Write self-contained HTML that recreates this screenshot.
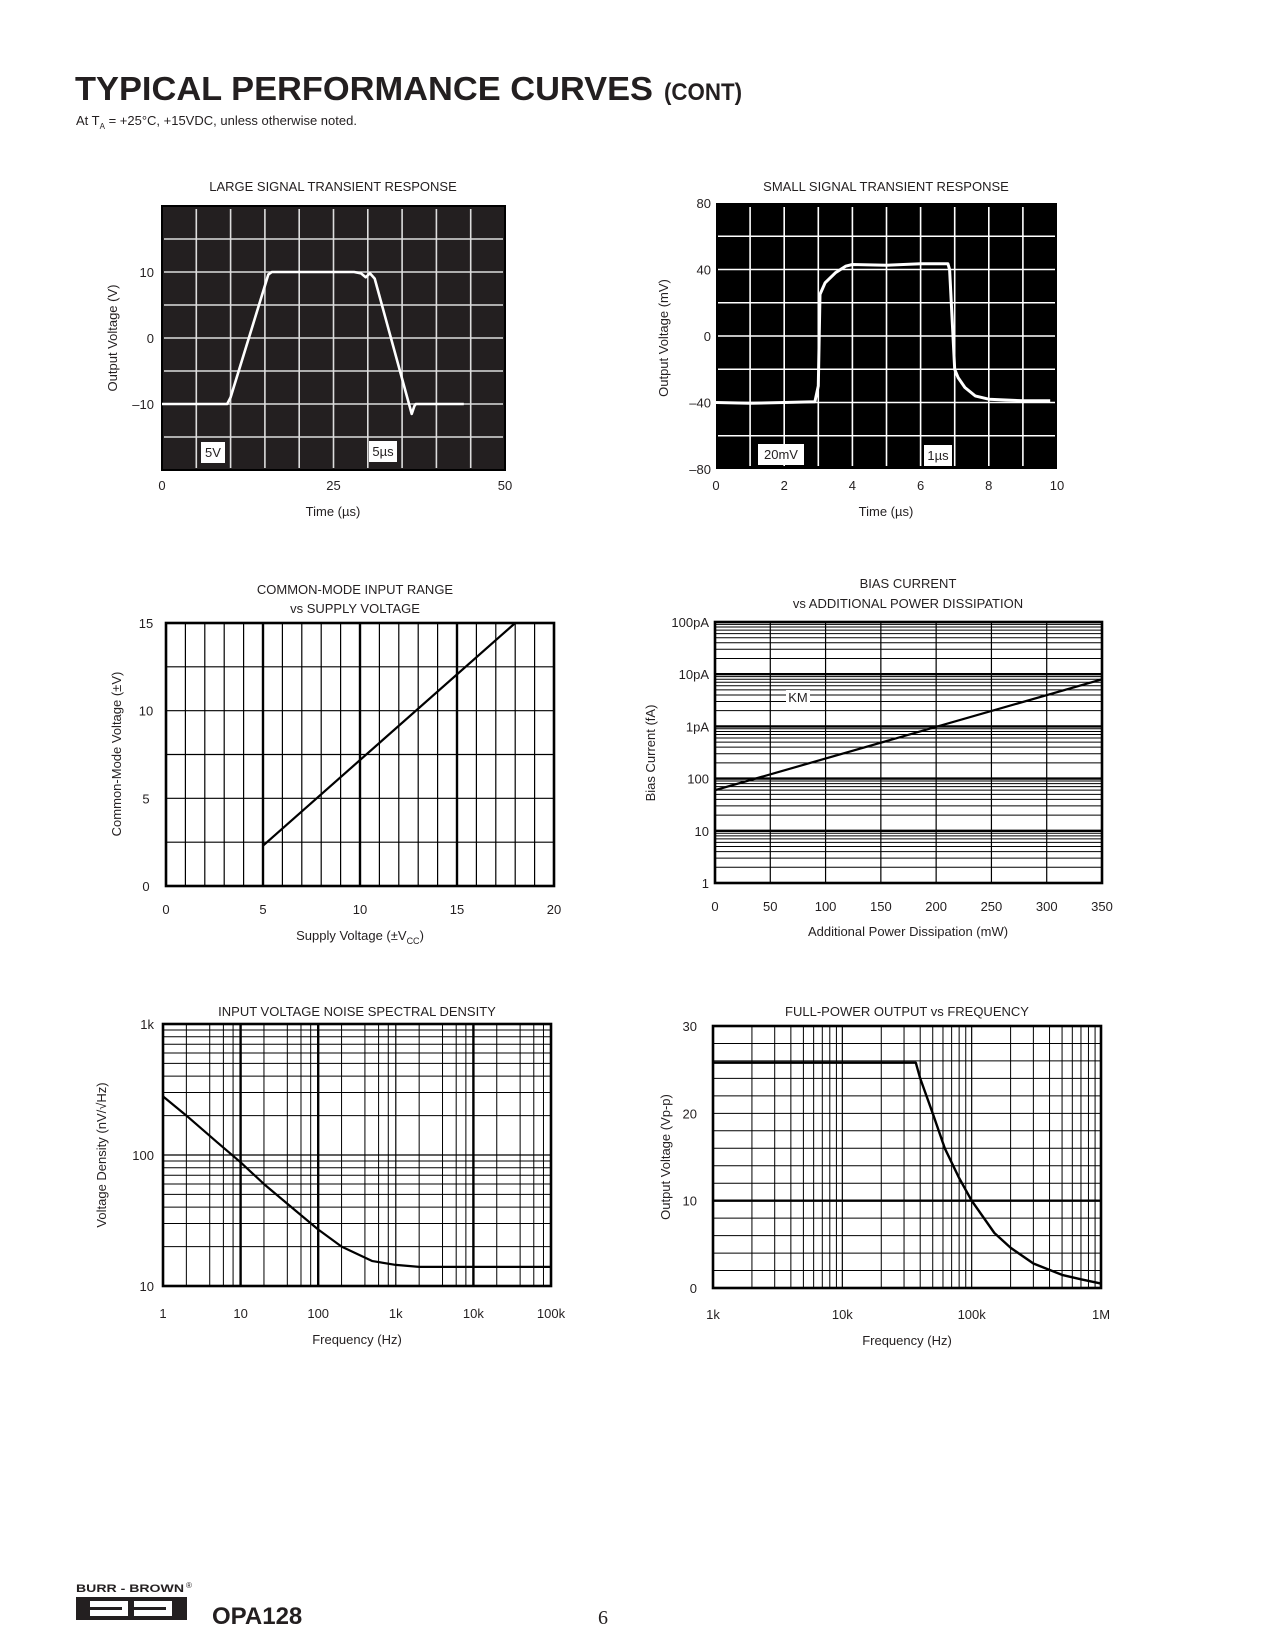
<!DOCTYPE html>
<html><head><meta charset="utf-8"><style>
body{margin:0;background:#fff;}
svg{display:block;font-family:"Liberation Sans",Arial,sans-serif;}
</style></head><body>
<svg id="pg" width="1275" height="1650" viewBox="0 0 1275 1650" xmlns="http://www.w3.org/2000/svg">
<text x="75" y="100" font-size="33" font-weight="bold" fill="#231f20" textLength="578" lengthAdjust="spacingAndGlyphs">TYPICAL PERFORMANCE CURVES</text>
<text x="664" y="100" font-size="24" font-weight="bold" fill="#231f20" textLength="78" lengthAdjust="spacingAndGlyphs">(CONT)</text>
<text x="76" y="125" font-size="13" fill="#231f20">At T<tspan font-size="8" dy="4">A</tspan><tspan dy="-4"> = +25°C, +15VDC, unless otherwise noted.</tspan></text>
<g id="charts"></g>
<g>
<text x="76" y="1592" font-size="11" font-weight="bold" fill="#231f20" textLength="108" lengthAdjust="spacingAndGlyphs">BURR - BROWN</text>
<text x="186" y="1588" font-size="8" fill="#231f20">®</text>
<rect x="76" y="1597" width="111" height="23" fill="#231f20"/>
<rect x="90" y="1601" width="38" height="15" fill="#fff"/><rect x="134" y="1601" width="38" height="15" fill="#fff"/>
<rect x="90" y="1607" width="32" height="3" fill="#231f20"/><rect x="134" y="1607" width="32" height="3" fill="#231f20"/>
</g>
<text x="212" y="1624" font-size="24" font-weight="bold" fill="#231f20">OPA128</text>
<text x="598" y="1624" font-size="20" font-family="Liberation Serif,serif" fill="#231f20">6</text>
</svg>
<script>
// ---- data ----
const lsTime=[0,9.5,10,15.5,16,28,29,29.7,30.3,31,36,36.4,36.8,37,44];
const lsVolt=[-10,-10,-9,9.6,10,10,9.8,9.2,9.8,9,-10,-11.5,-10.3,-10,-10];
const ssTime=[0,1,2,2.9,3.0,3.05,3.2,3.5,3.8,4.0,5,6,6.8,6.85,7.0,7.1,7.3,7.6,8.0,9,9.8];
const ssVolt=[-40,-40.5,-40,-39.5,-30,25,32,38,42,43,42.5,43.5,43.5,40,-20,-25,-31,-36,-38,-39,-39];
const cmSupply=[5,18];
const cmRange=[2.3,15];
const biasPower=[0,350];
const biasCurrent=[60,8000];
const noiseFreq=[1,2,5,10,20,50,100,200,500,1000,2000,10000,100000];
const noiseDensity=[280,200,125,88,60,38,27,20,15.5,14.5,14,14,14];
const fpFreq=[1000,37000,40000,50000,62000,80000,100000,150000,200000,300000,500000,700000,1000000];
const fpVolt=[25.8,25.8,24,20,16,12.6,10,6.3,4.6,2.8,1.5,1,0.5];
const lsXTicks=["0","25","50"], ssXTicks=["0","2","4","6","8","10"];
const lsYTicks=["10","0","–10"], ssYTicks=["80","40","0","–40","–80"];
const cmXTicks=["0","5","10","15","20"], cmYTicks=["0","5","10","15"];
const biasXTicks=["0","50","100","150","200","250","300","350"];
const biasYTicks=["1","10","100","1pA","10pA","100pA"];
const noiseXTicks=["1","10","100","1k","10k","100k"], noiseYTicks=["10","100","1k"];
const fpXTicks=["1k","10k","100k","1M"], fpYTicks=["0","10","20","30"];

const NS="http://www.w3.org/2000/svg";
const root=document.getElementById('charts');
function mk(tag,attrs,parent,txt){const e=document.createElementNS(NS,tag);for(const k in attrs)e.setAttribute(k,attrs[k]);if(txt!==undefined)e.textContent=txt;(parent||root).appendChild(e);return e;}
function lin(d0,d1,r0,r1){return v=>r0+(v-d0)/(d1-d0)*(r1-r0);}
function logs(d0,d1,r0,r1){return v=>r0+(Math.log10(v)-Math.log10(d0))/(Math.log10(d1)-Math.log10(d0))*(r1-r0);}
function line(g,x1,y1,x2,y2,c,w){return mk('line',{x1,y1,x2,y2,stroke:c,'stroke-width':w},g);}
function txt(g,x,y,s,anchor,size){return mk('text',{x,y,'font-size':size||13,'text-anchor':anchor||'middle',fill:'#231f20'},g,s);}
function path(g,xs,ys,sx,sy,c,w){let d='';for(let i=0;i<xs.length;i++)d+=(i?'L':'M')+sx(xs[i]).toFixed(1)+','+sy(ys[i]).toFixed(1);return mk('path',{d,fill:'none',stroke:c,'stroke-width':w,'stroke-linejoin':'round'},g);}
function ylabel(g,x,y,s){const t=mk('text',{x:0,y:0,'font-size':13,'text-anchor':'middle',fill:'#231f20',transform:`translate(${x},${y}) rotate(-90)`},g,s);return t;}

// ---- Large signal ----
(function(){
const g=mk('g',{});


const L=162,R=505,T=206,B=470;
const sx=lin(0,50,L,R), sy=lin(20,-20,T,B);
mk('rect',{x:L,y:T,width:R-L,height:B-T,fill:'#231f20',stroke:'#000','stroke-width':2},g);
for(let i=1;i<10;i++)line(g,sx(i*5),T+3,sx(i*5),B-2,'#ddd',1.6);
for(let i=1;i<8;i++)line(g,L+2,sy(20-i*5),R-2,sy(20-i*5),'#ddd',1.6);
const tr=path(g,lsTime,lsVolt,sx,sy,'#fff',2.6);


mk('rect',{x:201,y:442,width:24,height:21,fill:'#fff'},g);txt(g,213,457,'5V');
mk('rect',{x:369,y:441,width:28,height:21,fill:'#fff'},g);txt(g,383,456,'5µs');
txt(g,333,191,'LARGE SIGNAL TRANSIENT RESPONSE');
lsXTicks.forEach((s,i)=>txt(g,sx(i*25),490,s));
lsYTicks.forEach((s,i)=>txt(g,154,sy(10-i*10)+5,s,'end'));
txt(g,333,516,'Time (µs)');
ylabel(g,117,338,'Output Voltage (V)');
})();

// ---- Small signal ----
(function(){
const g=mk('g',{});


const L=716,R=1057,T=203,B=469;
const sx=lin(0,10,L,R), sy=lin(80,-80,T,B);
mk('rect',{x:L,y:T,width:R-L,height:B-T,fill:'#000'},g);
for(let i=1;i<10;i++)line(g,sx(i),T+4,sx(i),B-3,'#fff',1.6);
for(let i=1;i<8;i++)line(g,L+2,sy(80-i*20),R-2,sy(80-i*20),'#fff',1.6);
const tr=path(g,ssTime,ssVolt,sx,sy,'#fff',3);


mk('rect',{x:758,y:444,width:46,height:21,fill:'#fff'},g);txt(g,781,459,'20mV');
mk('rect',{x:924,y:445,width:28,height:21,fill:'#fff'},g);txt(g,938,460,'1µs');
txt(g,886,191,'SMALL SIGNAL TRANSIENT RESPONSE');
ssXTicks.forEach((s,i)=>txt(g,sx(i*2),490,s));
ssYTicks.forEach((s,i)=>txt(g,711,sy(80-i*40)+5,s,'end'));
txt(g,886,516,'Time (µs)');
ylabel(g,668,338,'Output Voltage (mV)');
})();

// ---- Common mode ----
(function(){
const g=mk('g',{});


const L=166,R=554,T=623,B=886;
const sx=lin(0,20,L,R), sy=lin(0,15,B,T);
for(let i=1;i<20;i++)line(g,sx(i),T,sx(i),B,'#000',(i%5==0)?2.4:1.2);
for(let i=1;i<6;i++)line(g,L,sy(i*2.5),R,sy(i*2.5),'#000',1.2);
mk('rect',{x:L,y:T,width:R-L,height:B-T,fill:'none',stroke:'#000','stroke-width':2.6},g);
const tr=path(g,cmSupply,cmRange,sx,sy,'#000',2.2);


txt(g,355,594,'COMMON-MODE INPUT RANGE');txt(g,355,613,'vs SUPPLY VOLTAGE');
cmXTicks.forEach((s,i)=>txt(g,sx(i*5),914,s));
cmYTicks.forEach((s,i)=>txt(g,146,sy(i*5)+5,s));
const xl=txt(g,360,940,'Supply Voltage (±V');mk('tspan',{'font-size':9,dy:4},xl,'CC');mk('tspan',{dy:-4},xl,')');
ylabel(g,121,754,'Common-Mode Voltage (±V)');
})();

// ---- Bias current ----
(function(){
const g=mk('g',{});


const L=715,R=1102,T=622,B=883;
const sx=lin(0,350,L,R), sy=logs(1,1e5,B,T);
for(let d=0;d<5;d++)for(let m=2;m<10;m++)line(g,L,sy(m*Math.pow(10,d)),R,sy(m*Math.pow(10,d)),'#000',1);
for(let d=1;d<5;d++)line(g,L,sy(Math.pow(10,d)),R,sy(Math.pow(10,d)),'#000',2.4);
for(let i=1;i<7;i++)line(g,sx(i*50),T,sx(i*50),B,'#000',1.2);
mk('rect',{x:L,y:T,width:R-L,height:B-T,fill:'none',stroke:'#000','stroke-width':2.6},g);
mk('rect',{x:786,y:690,width:24,height:14,fill:'#fff'},g);
txt(g,798,702,'KM');
const tr=path(g,biasPower,biasCurrent,sx,sy,'#000',2.2);


txt(g,908,588,'BIAS CURRENT');txt(g,908,608,'vs ADDITIONAL POWER DISSIPATION');
biasXTicks.forEach((s,i)=>txt(g,sx(i*50),911,s));
biasYTicks.forEach((s,i)=>txt(g,709,sy(Math.pow(10,i))+5,s,'end'));
txt(g,908,936,'Additional Power Dissipation (mW)');
ylabel(g,655,753,'Bias Current (fA)');
})();

// ---- Noise ----
(function(){
const g=mk('g',{});


const L=163,R=551,T=1024,B=1286;
const sx=logs(1,1e5,L,R), sy=logs(10,1000,B,T);
for(let d=0;d<5;d++)for(const m of [2,4,6,8])line(g,sx(m*Math.pow(10,d)),T,sx(m*Math.pow(10,d)),B,'#000',1);
[10,100,10000].forEach(v=>line(g,sx(v),T,sx(v),B,'#000',2.4));
line(g,sx(1000),T,sx(1000),B,'#000',1.2);
for(let d=1;d<3;d++)for(let m=2;m<10;m++)line(g,L,sy(m*Math.pow(10,d)),R,sy(m*Math.pow(10,d)),'#000',1);
line(g,L,sy(100),R,sy(100),'#000',1.2);
mk('rect',{x:L,y:T,width:R-L,height:B-T,fill:'none',stroke:'#000','stroke-width':2.6},g);
const tr=path(g,noiseFreq,noiseDensity,sx,sy,'#000',2.2);


txt(g,357,1016,'INPUT VOLTAGE NOISE SPECTRAL DENSITY');
noiseXTicks.forEach((s,i)=>txt(g,sx(Math.pow(10,i)),1318,s));
noiseYTicks.forEach((s,i)=>txt(g,154,sy(Math.pow(10,i+1))+5,s,'end'));
txt(g,357,1344,'Frequency (Hz)');
ylabel(g,106,1155,'Voltage Density (nV/√Hz)');
})();

// ---- Full power ----
(function(){
const g=mk('g',{});


const L=713,R=1101,T=1026,B=1288;
const sx=logs(1000,1e6,L,R), sy=lin(0,30,B,T);
for(let d=3;d<6;d++)for(let m=2;m<10;m++)line(g,sx(m*Math.pow(10,d)),T,sx(m*Math.pow(10,d)),B,'#000',1);
[1e4,1e5].forEach(v=>line(g,sx(v),T,sx(v),B,'#000',1.2));
for(let i=1;i<15;i++)line(g,L,sy(i*2),R,sy(i*2),'#000',i==5?2.4:1);
mk('rect',{x:L,y:T,width:R-L,height:B-T,fill:'none',stroke:'#000','stroke-width':2.6},g);
const tr=path(g,fpFreq,fpVolt,sx,sy,'#000',2.4);


txt(g,907,1016,'FULL-POWER OUTPUT vs FREQUENCY');
fpXTicks.forEach((s,i)=>txt(g,sx(Math.pow(10,i+3)),1319,s));
fpYTicks.forEach((s,i)=>txt(g,697,sy(i*10)+5,s,'end'));
txt(g,907,1345,'Frequency (Hz)');
ylabel(g,670,1157,'Output Voltage (Vp-p)');
})();
</script>
</body></html>
